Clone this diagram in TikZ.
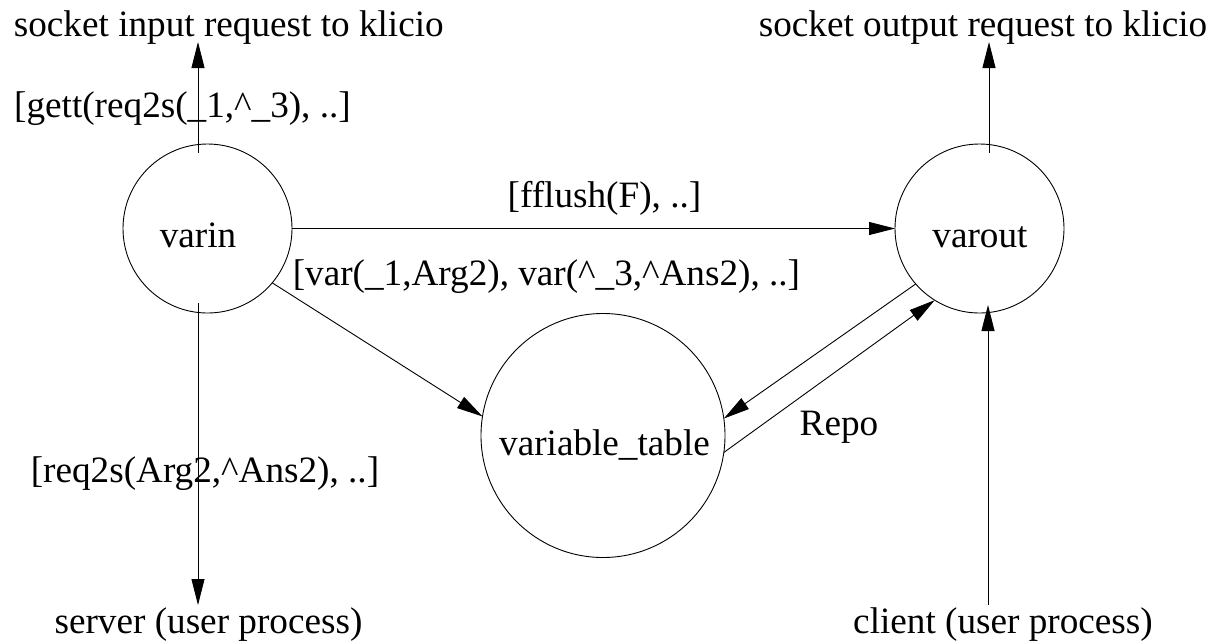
\documentclass[tikz,border=0pt]{standalone}
\usepackage{fontspec}
\setmainfont{Liberation Serif}
\usetikzlibrary{arrows.meta}
\begin{document}
\begin{tikzpicture}[x=1pt,y=-1pt,
  every node/.style={inner sep=0pt,outer sep=0pt},
  lbl/.style={anchor=base,font=\fontsize{37.2}{40}\selectfont},
  state/.style={draw,circle,line width=0.9pt},
  arr/.style={line width=0.9pt,-{Triangle[length=26pt,width=13pt]}}]
\useasboundingbox (0,0) rectangle (1226,641);
% states
\node[state,minimum size=169pt] (varin) at (207.5,228.5) {};
\node[state,minimum size=169pt] (varout) at (979.5,228.5) {};
\node[state,minimum size=244pt] (table) at (603,435.5) {};
\node[lbl] (varinT) at (198,247) {varin};
\node[lbl] (varoutT) at (980,247) {varout};
\node[lbl] (tableT) at (604.5,455) {variable\_table};
% outside texts
\node[lbl] (sockin) at (228.8,36.7) {socket input request to klicio};
\node[lbl] (sockout) at (983,36) {socket output request to klicio};
\node[lbl] (server) at (208.5,633) {server (user process)};
\node[lbl] (client) at (1003,633) {client (user process)};
% edge labels
\node[lbl] (gett) at (182.5,117) {[gett(req2s(\_1,\textasciicircum\_3), ..]};
\node[lbl] (fflush) at (604.5,207) {[fflush(F), ..]};
\node[lbl] (vars) at (546.5,285) {[var(\_1,Arg2), var(\textasciicircum\_3,\textasciicircum Ans2), ..]};
\node[lbl] (repo) at (839,435) {Repo};
\node[lbl] (req) at (205,482) {[req2s(Arg2,\textasciicircum Ans2), ..]};
% free ends
\coordinate (inTip) at (198,42);
\coordinate (outTip) at (989,42);
\coordinate (srvTip) at (198,605);
\coordinate (cliStart) at (988,605);
\coordinate (cliTip) at (988,305);
% connectors
\draw[arr] ([xshift=-9.5pt,yshift=-9pt]varin.north) -- (inTip);
\draw[arr] ([xshift=9.5pt,yshift=-9pt]varout.north) -- (outTip);
\draw[arr] ([xshift=-9.5pt,yshift=10pt]varin.south) -- (srvTip);
\draw[arr] (cliStart) -- (cliTip);
\draw[arr] (varin.east) -- (varout.west);
\draw[arr] (varin.-40) -- (table.171);
\draw[arr] (varout.221) -- (table.8.6);
\draw[arr] (table.-8.6) -- (varout.238);
\end{tikzpicture}
\end{document}
